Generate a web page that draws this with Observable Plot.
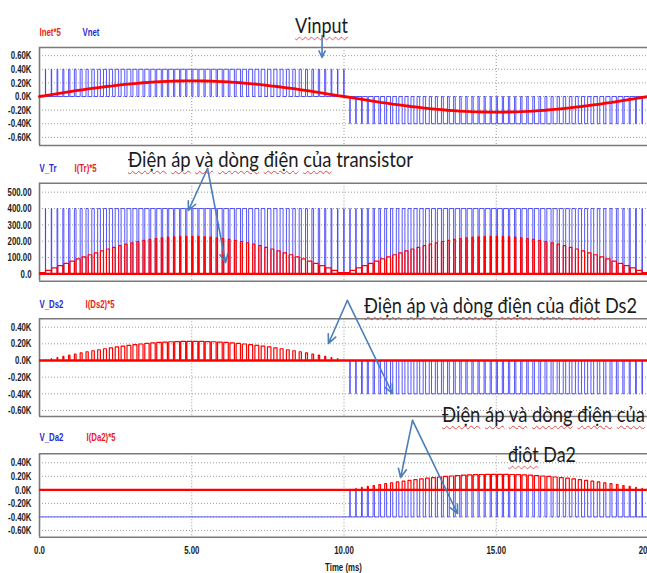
<!DOCTYPE html>
<html>
<head>
<meta charset="utf-8">
<script src="https://cdn.jsdelivr.net/npm/d3@7"></script>
<script src="https://cdn.jsdelivr.net/npm/@observablehq/plot@0.6"></script>
<style>
html, body { margin: 0; padding: 0; background: #fff; }
#chart { position: relative; width: 647px; height: 573px; overflow: hidden; background: #fff; }
#chart svg { position: absolute; left: 0; overflow: visible; background: transparent; }
.note { position: absolute; white-space: nowrap; font-family: Lato, "Open Sans", sans-serif; font-size: 21px; line-height: 21px; color: #1b1b1b; transform-origin: 0 0; z-index: 5; }
.sq { text-decoration: underline wavy #e04848; text-decoration-thickness: 1px; text-underline-offset: 3px; text-decoration-skip-ink: none; }
</style>
</head>
<body>
<div id="chart"></div>
<script>
// ---------------- data ----------------
const halfCycleMs = 10;
const switchPeriodMs = 0.2;
const busVoltage = 400;
// inductor current x5 envelope, every switching period over a half cycle (0..10 ms)
const currentEnvelope = [0,14,29,43,57,71,85,98,111,123,135,147,157,168,177,186,194,202,208,214,219,223,226,228,230,
  230,230,228,226,223,219,214,208,202,194,186,177,168,157,147,135,123,111,98,85,71,57,43,29,14,0];
// transistor on-time fraction for each switching period of a half cycle
const onDuty = [0.97,0.93,0.88,0.83,0.78,0.73,0.68,0.64,0.59,0.55,0.51,0.47,0.43,0.40,0.37,0.34,0.31,0.29,0.27,0.25,0.23,0.22,0.21,0.20,0.20,
  0.20,0.20,0.21,0.22,0.23,0.25,0.27,0.29,0.31,0.34,0.37,0.40,0.43,0.47,0.51,0.55,0.59,0.64,0.68,0.73,0.78,0.83,0.88,0.93,0.97];

const seriesNet = ["Inet*5", "Vnet"];
const seriesTr = ["V_Tr", "I(Tr)*5"];
const seriesDs2 = ["V_Ds2", "I(Ds2)*5"];
const seriesDa2 = ["V_Da2", "I(Da2)*5"];

const kTicks = [-600, -400, -200, 0, 200, 400, 600];
const kTickLabels = ["-0.60K", "-0.40K", "-0.20K", "0.0K", "0.20K", "0.40K", "0.60K"];
const trTicks = [0, 100, 200, 300, 400, 500];
const trTickLabels = ["0.0", "100.00", "200.00", "300.00", "400.00", "500.00"];
const diodeTicks = [-600, -400, -200, 0, 200, 400];
const diodeTickLabels = ["-0.60K", "-0.40K", "-0.20K", "0.0K", "0.20K", "0.40K"];
const timeTicks = [0, 5, 10, 15, 20];
const timeTickLabels = ["0.0", "5.00", "10.00", "15.00", "20.00"];
const timeGrid = [5, 10, 15];
const timeLabel = ["Time (ms)"];

const noteVinput = "Vinput";
const noteTransistor = "Điện áp và dòng điện của transistor";
const noteDs2 = "Điện áp và dòng điện của điôt Ds2";
const noteDa2a = "Điện áp và dòng điện của";
const noteDa2b = "điôt Da2";
const plainWords = ["transistor", "Ds2", "Da2"];

// ---------------- waveforms built from the arrays ----------------
const vNet = [], vTr = [], iTr = [], vDs2 = [], iDs2 = [], vDa2 = [], iDa2 = [], iNet = [];
const nPer = onDuty.length;
for (let h = 0; h < 2; h++) {
  const sign = h === 0 ? 1 : -1;
  for (let k = 0; k < nPer; k++) {
    const t0 = h * halfCycleMs + k * switchPeriodMs;
    const tOff = t0 + onDuty[k] * switchPeriodMs;
    const t1 = t0 + switchPeriodMs;
    const i = (currentEnvelope[k] + currentEnvelope[k + 1]) / 2;
    vTr.push([t0, 0], [tOff, 0], [tOff, busVoltage], [t1, busVoltage]);
    iTr.push([t0, 0], [t0, i], [tOff, i], [tOff, 0], [t1, 0]);
    const iOff = [[t0, 0], [tOff, 0], [tOff, i], [t1, i], [t1, 0]];
    if (h === 0) {
      vNet.push([t0, 0], [tOff, 0], [tOff, busVoltage], [t1, busVoltage]);
      vDs2.push([t0, 0], [t1, 0]);
      iDs2.push(...iOff);
      vDa2.push([t0, -busVoltage], [t1, -busVoltage]);
      iDa2.push([t0, 0], [t1, 0]);
    } else {
      vNet.push([t0, 0], [tOff, 0], [tOff, -busVoltage], [t1, -busVoltage]);
      vDs2.push([t0, 0], [tOff, 0], [tOff, -busVoltage], [t1, -busVoltage]);
      iDs2.push([t0, 0], [t1, 0]);
      vDa2.push([t0, -busVoltage], [tOff, -busVoltage], [tOff, 0], [t1, 0]);
      iDa2.push(...iOff);
    }
  }
  for (let k = 0; k <= nPer; k++) iNet.push([h * halfCycleMs + k * switchPeriodMs, sign * currentEnvelope[k]]);
}

// ---------------- styling ----------------
const BLUE = "#3a3aff", RED = "#ff0000", LBLUE = "#2a2ad0", LRED = "#ea1c24";
const ARROW = "#4a7ebb", FRAME = "#7a7a7a", GRID = "#9a9a9a";
const W = 647;
const NARROW = 0.68; // horizontal compression of the condensed axis font

function panel(o) {
  const fmt = d => o.tickLabels[o.ticks.indexOf(d)];
  const marks = [
    Plot.gridY(o.ticks, {stroke: GRID, strokeOpacity: 1, strokeDasharray: "1,2"}),
    Plot.gridX(timeGrid, {stroke: GRID, strokeOpacity: 1, strokeDasharray: "1,2"}),
    Plot.ruleY([o.domain[1], o.domain[0]], {stroke: FRAME, strokeWidth: 1.6}),
    Plot.ruleX([0], {stroke: FRAME, strokeWidth: 1.6}),
    Plot.axisY({ticks: o.ticks, tickFormat: fmt, tickSize: 0, tickPadding: 8, fill: "#1a1a1a"}),
    Plot.line(o.blue, {x: d => d[0], y: d => d[1], stroke: BLUE, strokeOpacity: 0.85, strokeWidth: 1, strokeLinejoin: "miter"}),
    Plot.line(o.red, {x: d => d[0], y: d => d[1], stroke: RED, strokeWidth: o.redWidth, strokeLinejoin: "miter"}),
    Plot.text([o.labels[0]], {text: d => d, frameAnchor: "top-left", textAnchor: "start", lineAnchor: "middle", dy: o.labelDy, fill: o.labelColors[0]}),
    Plot.text([o.labels[1]], {text: d => d, frameAnchor: "top-left", textAnchor: "start", lineAnchor: "middle", dy: o.labelDy, dx: o.labelDx, fill: o.labelColors[1]}),
    Plot.arrow(o.arrows, {x1: "x1", y1: "y1", x2: "x2", y2: "y2", stroke: ARROW, strokeWidth: 1.6, headLength: 9, headAngle: 50})
  ];
  if (o.zeroRed) marks.splice(7, 0, Plot.ruleY([0], {stroke: RED, strokeWidth: 2.4}));
  if (o.xAxis) {
    marks.push(Plot.axisX({ticks: timeTicks, tickFormat: d => timeTickLabels[timeTicks.indexOf(d)], tickSize: 0, tickPadding: 9, fill: "#1a1a1a"}));
    marks.push(Plot.text(timeLabel, {text: d => d, frameAnchor: "bottom", lineAnchor: "middle", dy: 30, fill: "#1a1a1a"}));
  }
  const svg = Plot.plot({
    width: W,
    height: o.height,
    marginLeft: 39, marginRight: 0,
    marginTop: o.marginTop, marginBottom: o.marginBottom,
    x: {domain: [0, 20], range: [39, 648], axis: o.xAxis ? undefined : null, label: null},
    y: {domain: o.domain, label: null},
    style: {fontFamily: '"Liberation Sans", Arial, sans-serif', fontSize: "11.5px", fontWeight: "bold", color: "#1a1a1a", background: "transparent", overflow: "visible"},
    marks
  });
  svg.style.top = o.top + "px";
  return svg;
}

const chart = document.getElementById("chart");
const svgs = [
  panel({
    top: 0, height: 150, marginTop: 47, marginBottom: 5, domain: [-720, 720],
    ticks: kTicks, tickLabels: kTickLabels, labels: seriesNet, labelColors: [LRED, LBLUE], labelDy: -15, labelDx: 43,
    blue: vNet, red: iNet, redWidth: 2.8,
    arrows: [{x1: 9.28, y1: 896, x2: 9.28, y2: 573}]
  }),
  panel({
    top: 150, height: 135, marginTop: 32.7, marginBottom: 4.3, domain: [-45, 555],
    ticks: trTicks, tickLabels: trTickLabels, labels: seriesTr, labelColors: [LBLUE, LRED], labelDy: -14.7, labelDx: 35,
    blue: vTr, red: iTr, redWidth: 1.2, zeroRed: true,
    arrows: [{x1: 5.52, y1: 645, x2: 4.89, y2: 388}, {x1: 5.52, y1: 645, x2: 6.11, y2: 69}]
  }),
  panel({
    top: 285, height: 135, marginTop: 33.3, marginBottom: 4, domain: [-672, 500],
    ticks: diodeTicks, tickLabels: diodeTickLabels, labels: seriesDs2, labelColors: [LBLUE, LRED], labelDy: -14.3, labelDx: 46,
    blue: vDs2, red: iDs2, redWidth: 1.2, zeroRed: true,
    arrows: [{x1: 10.11, y1: 720, x2: 9.49, y2: 204}, {x1: 10.11, y1: 720, x2: 11.59, y2: -396}]
  }),
  panel({
    top: 395, height: 178, marginTop: 58.3, marginBottom: 36.3, domain: [-700, 533],
    ticks: diodeTicks, tickLabels: diodeTickLabels, labels: seriesDa2, labelColors: [LBLUE, LRED], labelDy: -16.3, labelDx: 47,
    blue: vDa2, red: iDa2, redWidth: 1.2, zeroRed: true, xAxis: true,
    arrows: [{x1: 12.25, y1: 1027, x2: 11.86, y2: 182}, {x1: 12.25, y1: 1027, x2: 13.73, y2: -351}]
  })
];
for (const svg of svgs) {
  chart.appendChild(svg);
  // condense every label of the plot (narrow, bold look of the simulator's font)
  svg.querySelectorAll("text").forEach(t => {
    const len = t.getComputedTextLength();
    if (len > 0) {
      t.setAttribute("textLength", (len * NARROW).toFixed(2));
      t.setAttribute("lengthAdjust", "spacingAndGlyphs");
    }
  });
}

// ---------------- annotation texts ----------------
const notes = [
  {text: noteVinput, left: 295, baseline: 33.3, width: 53},
  {text: noteTransistor, left: 128.3, baseline: 166.7, width: 285},
  {text: noteDs2, left: 364, baseline: 313.3, width: 273},
  {text: noteDa2a, left: 441.7, baseline: 421.7, width: 203},
  {text: noteDa2b, left: 508.3, baseline: 461.7, width: 68}
];
for (const n of notes) {
  const div = document.createElement("div");
  div.className = "note";
  div.style.left = n.left + "px";
  const words = n.text.split(" ");
  words.forEach((w, i) => {
    const s = document.createElement("span");
    s.textContent = w;
    if (!plainWords.includes(w)) s.className = "sq";
    div.appendChild(s);
    if (i < words.length - 1) div.appendChild(document.createTextNode(" "));
  });
  const probe = document.createElement("span");
  probe.style.cssText = "display:inline-block;width:0;height:0;vertical-align:baseline;";
  div.appendChild(probe);
  chart.appendChild(div);
  const base = probe.offsetTop;
  const w = div.getBoundingClientRect().width;
  div.style.top = (n.baseline - base) + "px";
  div.style.transform = `scaleX(${n.width / w})`;
}
</script>
</body>
</html>
